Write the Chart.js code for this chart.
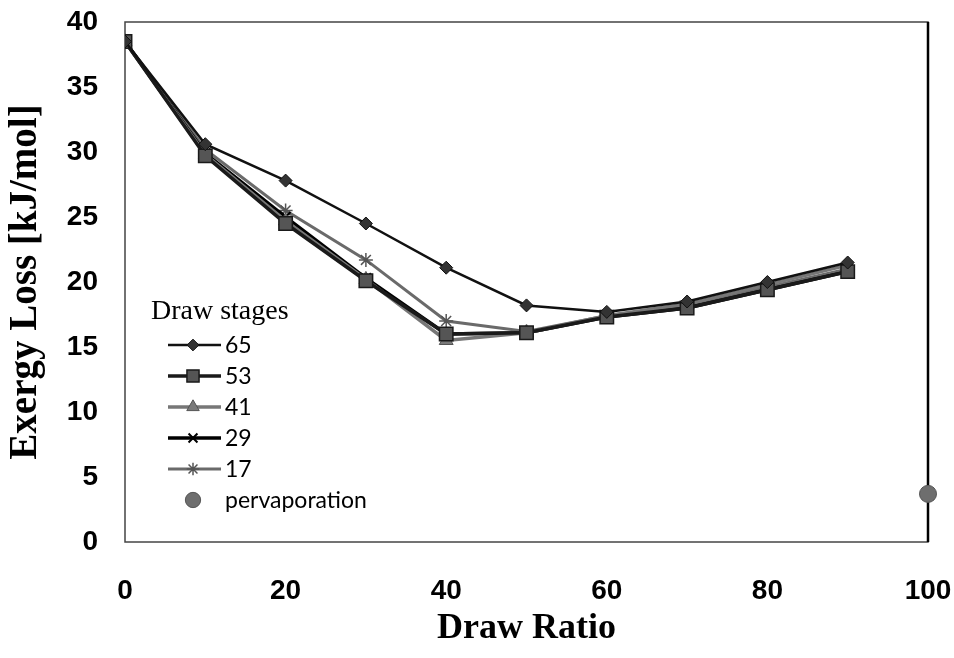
<!DOCTYPE html>
<html>
<head>
<meta charset="utf-8">
<script src="https://cdn.jsdelivr.net/npm/chart.js@4.4.1/dist/chart.umd.min.js"></script>
<style>
  html, body { margin: 0; padding: 0; background: #fff; }
  #wrap { width: 954px; height: 658px; }
</style>
</head>
<body>
<div id="wrap"><canvas id="chart" width="954" height="658"></canvas></div>
<script>
// data
const drawRatio = [0, 10, 20, 30, 40, 50, 60, 70, 80, 90];
const stage65 = [38.5, 30.6, 27.8, 24.5, 21.1, 18.2, 17.7, 18.5, 20.0, 21.5];
const stage53 = [38.5, 29.7, 24.5, 20.1, 16.0, 16.1, 17.3, 18.0, 19.4, 20.8];
const stage41 = [38.5, 29.8, 24.7, 20.2, 15.5, 16.1, 17.4, 18.3, 19.8, 21.3];
const stage29 = [38.5, 29.9, 25.0, 20.3, 16.0, 16.1, 17.3, 18.0, 19.4, 20.8];
const stage17 = [38.5, 30.2, 25.5, 21.7, 17.0, 16.2, 17.4, 18.2, 19.6, 21.0];
const pervapX = [100];
const pervapY = [3.7];
const xTicks = [0, 20, 40, 60, 80, 100];
const yTicks = [0, 5, 10, 15, 20, 25, 30, 35, 40];

const toPoints = (xs, ys) => xs.map((x, i) => ({ x: x, y: ys[i] }));

const series = (label, values, style) => Object.assign({
    label: label,
    data: toPoints(drawRatio, values),
    showLine: true,
    fill: false,
    tension: 0
}, style);

const datasets = [
    series("65", stage65, { borderColor: "#111", borderWidth: 2.5, pointStyle: "rectRot", pointRadius: 6.5,
        pointBackgroundColor: "#333", pointBorderColor: "#111", pointBorderWidth: 1 }),
    series("53", stage53, { borderColor: "#1a1a1a", borderWidth: 3.5, pointStyle: "rect", pointRadius: 9.5,
        pointBackgroundColor: "#555", pointBorderColor: "#1a1a1a", pointBorderWidth: 1.5 }),
    series("41", stage41, { borderColor: "#777", borderWidth: 3.5, pointStyle: "triangle", pointRadius: 8,
        pointBackgroundColor: "#7a7a7a", pointBorderColor: "#555", pointBorderWidth: 1 }),
    series("29", stage29, { borderColor: "#000", borderWidth: 3.5, pointStyle: "crossRot", pointRadius: 7,
        pointBackgroundColor: "#000", pointBorderColor: "#000", pointBorderWidth: 2 }),
    series("17", stage17, { borderColor: "#6a6a6a", borderWidth: 3, pointStyle: "star", pointRadius: 7,
        pointBackgroundColor: "#666", pointBorderColor: "#555", pointBorderWidth: 1.5 }),
    {
        label: "pervaporation",
        data: toPoints(pervapX, pervapY),
        showLine: false,
        pointStyle: "circle",
        pointRadius: 8.5,
        pointBackgroundColor: "#6e6e6e",
        pointBorderColor: "#555",
        pointBorderWidth: 1,
        clip: false
    }
];

// frame round the plot area
const framePlugin = {
    id: "frame",
    beforeDatasetsDraw(chart) {
        const { ctx, chartArea: a } = chart;
        ctx.save();
        ctx.strokeStyle = "#444";
        ctx.lineWidth = 1.5;
        ctx.strokeRect(a.left, a.top, a.right - a.left, a.bottom - a.top);
        ctx.strokeStyle = "#000";
        ctx.lineWidth = 2.5;
        ctx.beginPath();
        ctx.moveTo(a.right, a.top);
        ctx.lineTo(a.right, a.bottom);
        ctx.stroke();
        ctx.restore();
    }
};

// legend drawn inside the plot, as in the picture
const legendPlugin = {
    id: "insideLegend",
    afterDraw(chart) {
        const ctx = chart.ctx;
        ctx.save();
        ctx.fillStyle = "#000";
        ctx.textBaseline = "alphabetic";
        ctx.font = "28px 'Liberation Serif', serif";
        ctx.fillText("Draw stages", 151, 319);

        const x0 = 168, x1 = 221, mid = 193, rowY = 345, step = 31;
        chart.data.datasets.forEach((ds, i) => {
            const y = rowY + i * step;
            if (ds.showLine) {
                ctx.strokeStyle = ds.borderColor;
                ctx.lineWidth = ds.borderWidth;
                ctx.beginPath();
                ctx.moveTo(x0, y);
                ctx.lineTo(x1, y);
                ctx.stroke();
            }
            ctx.fillStyle = ds.pointBackgroundColor;
            ctx.strokeStyle = ds.pointBorderColor;
            ctx.lineWidth = ds.pointBorderWidth;
            Chart.helpers.drawPoint(ctx, {
                pointStyle: ds.pointStyle,
                radius: ds.pointRadius * 0.9,
                borderWidth: ds.pointBorderWidth,
                rotation: 0
            }, mid, y);
            ctx.fillStyle = "#000";
            ctx.font = "23px Lato, 'Open Sans', sans-serif";
            ctx.textBaseline = "middle";
            ctx.fillText(ds.label, 225, y + 1);
        });
        ctx.restore();
    }
};

new Chart(document.getElementById("chart"), {
    type: "scatter",
    data: { datasets: datasets },
    options: {
        responsive: false,
        animation: false,
        layout: { padding: { top: 22, right: 26, left: 0, bottom: 0 } },
        plugins: {
            legend: { display: false },
            tooltip: { enabled: false }
        },
        scales: {
            x: {
                type: "linear",
                min: 0,
                max: 100,
                afterFit: (scale) => {
                    scale.height = 116;
                    scale.paddingLeft = 0;
                    scale.paddingRight = 0;
                },
                afterBuildTicks: (scale) => { scale.ticks = xTicks.map(v => ({ value: v })); },
                grid: { display: false, drawTicks: false },
                border: { display: false },
                ticks: {
                    padding: 32,
                    color: "#000",
                    font: { family: "'Liberation Sans', Arial, sans-serif", size: 28, weight: "bold" }
                },
                title: {
                    display: true,
                    text: "Draw Ratio",
                    color: "#000",
                    padding: { top: 8, bottom: 8 },
                    font: { family: "'Liberation Serif', 'Times New Roman', serif", size: 36, weight: "bold" }
                }
            },
            y: {
                type: "linear",
                min: 0,
                max: 40,
                afterFit: (scale) => {
                    scale.width = 125;
                    scale.paddingTop = 0;
                    scale.paddingBottom = 0;
                },
                afterBuildTicks: (scale) => { scale.ticks = yTicks.map(v => ({ value: v })); },
                grid: { display: false, drawTicks: false },
                border: { display: false },
                ticks: {
                    padding: 27,
                    color: "#000",
                    font: { family: "'Liberation Sans', Arial, sans-serif", size: 28, weight: "bold" }
                },
                title: {
                    display: true,
                    text: "Exergy Loss [kJ/mol]",
                    color: "#000",
                    padding: { top: 3, bottom: 0 },
                    font: { family: "'Liberation Serif', 'Times New Roman', serif", size: 39, weight: "bold" }
                }
            }
        }
    },
    plugins: [framePlugin, legendPlugin]
});
</script>
</body>
</html>
